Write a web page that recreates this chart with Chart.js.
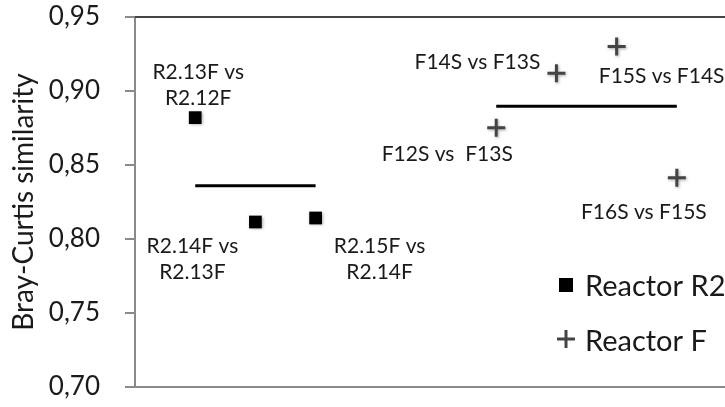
<!DOCTYPE html>
<html>
<head>
<meta charset="utf-8">
<script src="https://cdn.jsdelivr.net/npm/chart.js@4"></script>
<style>
  html, body { margin: 0; padding: 0; background: #fff; overflow: hidden; }
  #wrap { width: 725px; height: 407px; }
</style>
</head>
<body>
<div id="wrap"><canvas id="c" width="725" height="407"></canvas></div>
<script>
// Sample pair positions along the sequence and their Bray-Curtis similarities
const r2Positions = [1, 2, 3];
const r2Values = [0.882, 0.8115, 0.8142];
const r2Notes = [['R2.13F vs', 'R2.12F'], ['R2.14F vs', 'R2.13F'], ['R2.15F vs', 'R2.14F']];

const fPositions = [6, 7, 8, 9];
const fValues = [0.8752, 0.912, 0.930, 0.8414];
const fNotes = [['F12S vs  F13S'], ['F14S vs F13S'], ['F15S vs F14S'], ['F16S vs F15S']];

const yTicks = [0.70, 0.75, 0.80, 0.85, 0.90, 0.95];

const mean = a => a.reduce((s, v) => s + v, 0) / a.length;
const pts = (xs, ys) => xs.map((x, i) => ({ x: x, y: ys[i] }));

const FONT = 'Lato, "Open Sans", sans-serif';
const INK = '#1a1a1a';

// Note placement around each marker: [dx, dy] of the first line's centre
const noteOffsets = {
  0: [[3, -45], [-63, 24], [64, 28]],
  1: [[-49, 27], [-79, -11], [45, 30], [-33, 35]]
};

const notesPlugin = {
  id: 'pairNotes',
  afterDatasetsDraw(chart) {
    const ctx = chart.ctx;
    const xs = chart.scales.x, ys = chart.scales.y;
    ctx.save();
    ctx.font = '21px ' + FONT;
    ctx.fillStyle = INK;
    ctx.textAlign = 'center';
    ctx.textBaseline = 'middle';
    [0, 1].forEach(di => {
      const ds = chart.data.datasets[di];
      ds.data.forEach((p, i) => {
        const px = xs.getPixelForValue(p.x), py = ys.getPixelForValue(p.y);
        const [dx, dy] = noteOffsets[di][i];
        ds.notes[i].forEach((line, li) => {
          ctx.fillText(line, px + dx, py + dy + li * 26);
        });
      });
    });
    ctx.restore();
  }
};

// soft halo under the markers
const haloPlugin = {
  id: 'markerHalo',
  beforeDatasetDraw(chart, args) {
    if (args.index > 1) return;
    const ctx = chart.ctx;
    ctx.save();
    ctx.shadowColor = 'rgba(0,0,0,0.35)';
    ctx.shadowBlur = 3;
    ctx.shadowOffsetX = 1;
    ctx.shadowOffsetY = 1;
  },
  afterDatasetDraw(chart, args) {
    if (args.index > 1) return;
    chart.ctx.restore();
  }
};

// dark top edge and grey baseline of the plot frame
const framePlugin = {
  id: 'frame',
  beforeDatasetsDraw(chart) {
    const { ctx, chartArea: a } = chart;
    ctx.save();
    ctx.lineWidth = 2;
    ctx.strokeStyle = '#8a8a8a';
    ctx.beginPath();
    ctx.moveTo(a.left - 10, a.bottom); ctx.lineTo(a.right, a.bottom);
    ctx.stroke();
    ctx.strokeStyle = '#444';
    ctx.beginPath();
    ctx.moveTo(a.left, a.top); ctx.lineTo(a.right, a.top);
    ctx.stroke();
    ctx.restore();
  }
};

const keyPlugin = {
  id: 'reactorKey',
  afterDraw(chart) {
    const { ctx, chartArea: a } = chart;
    const x0 = a.right - 159;
    ctx.save();
    ctx.font = '29px ' + FONT;
    ctx.textBaseline = 'middle';
    ctx.textAlign = 'left';
    // square marker entry
    ctx.fillStyle = '#000';
    ctx.fillRect(x0 - 7, a.bottom - 109, 14, 14);
    ctx.fillStyle = INK;
    ctx.fillText(chart.data.datasets[0].label, x0 + 19, a.bottom - 100);
    // cross marker entry
    ctx.strokeStyle = '#444';
    ctx.lineWidth = 3;
    ctx.beginPath();
    ctx.moveTo(x0 - 9, a.bottom - 48); ctx.lineTo(x0 + 9, a.bottom - 48);
    ctx.moveTo(x0, a.bottom - 57); ctx.lineTo(x0, a.bottom - 39);
    ctx.stroke();
    ctx.fillText(chart.data.datasets[1].label, x0 + 19, a.bottom - 45);
    ctx.restore();
  }
};

const noScalePadding = s => { s.paddingLeft = s.paddingRight = s.paddingTop = s.paddingBottom = 0; };

new Chart(document.getElementById('c'), {
  type: 'scatter',
  data: {
    datasets: [
      {
        label: 'Reactor R2',
        data: pts(r2Positions, r2Values),
        notes: r2Notes,
        pointStyle: 'rect',
        pointRadius: 9,
        pointHoverRadius: 9,
        backgroundColor: '#000',
        borderColor: '#000',
        borderWidth: 0
      },
      {
        label: 'Reactor F',
        data: pts(fPositions, fValues),
        notes: fNotes,
        pointStyle: 'cross',
        pointRadius: 9,
        pointHoverRadius: 9,
        borderColor: '#444',
        borderWidth: 3
      },
      {
        type: 'line',
        label: 'R2 mean',
        data: pts([r2Positions[0], r2Positions[r2Positions.length - 1]], [mean(r2Values), mean(r2Values)]),
        borderColor: '#000',
        borderWidth: 3,
        pointRadius: 0,
        fill: false
      },
      {
        type: 'line',
        label: 'F mean',
        data: pts([fPositions[0], fPositions[fPositions.length - 1]], [mean(fValues), mean(fValues)]),
        borderColor: '#000',
        borderWidth: 3,
        pointRadius: 0,
        fill: false
      }
    ]
  },
  options: {
    responsive: false,
    animation: false,
    layout: { autoPadding: false, padding: { top: 17, bottom: 20, left: 0, right: 0 } },
    plugins: { legend: { display: false }, tooltip: { enabled: false } },
    scales: {
      x: { type: 'linear', min: 0, max: 9.8, display: false, afterFit: noScalePadding },
      y: {
        min: yTicks[0],
        max: yTicks[yTicks.length - 1],
        afterBuildTicks: s => { s.ticks = yTicks.map(v => ({ value: v })); },
        afterFit: s => { s.width = 135; noScalePadding(s); },
        ticks: {
          callback: v => v.toFixed(2).replace('.', ','),
          font: { family: FONT, size: 26 },
          color: INK,
          padding: 25
        },
        grid: { drawOnChartArea: false, drawTicks: true, tickLength: 10, color: '#8a8a8a', lineWidth: 2 },
        border: { display: true, color: '#8a8a8a', width: 2 },
        title: {
          display: true,
          text: 'Bray-Curtis similarity',
          font: { family: FONT, size: 28 },
          color: INK,
          padding: { top: 7, bottom: 0 }
        }
      }
    }
  },
  plugins: [framePlugin, haloPlugin, notesPlugin, keyPlugin]
});
</script>
</body>
</html>
